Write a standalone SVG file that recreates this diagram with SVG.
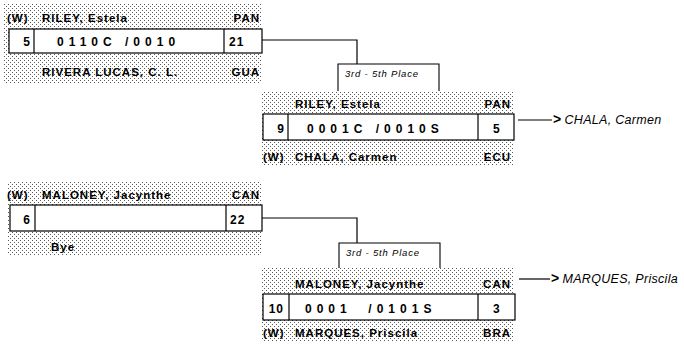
<svg xmlns="http://www.w3.org/2000/svg" width="684" height="344" viewBox="0 0 684 344">
<defs>
<pattern id="dots" width="4" height="4" patternUnits="userSpaceOnUse">
<rect width="1" height="1" fill="#5a5a5a"/>
<rect x="2" y="2" width="1" height="1" fill="#5a5a5a"/>
</pattern>
<style>
.shade{fill:url(#dots)}
.box{fill:#fff;stroke:#000;stroke-width:1.2}
.div{stroke:#000;stroke-width:1.2}
.t{font-family:"Liberation Sans",Arial,Helvetica,sans-serif;font-weight:bold;font-size:11.5px;letter-spacing:1px;fill:#000}
.n{font-family:"Liberation Sans",Arial,Helvetica,sans-serif;font-weight:bold;font-size:12px;letter-spacing:1px;fill:#000}
.sc{font-family:"Liberation Sans",Arial,Helvetica,sans-serif;font-weight:bold;font-size:12px;letter-spacing:5px;fill:#000}
.pl{font-family:"Liberation Sans",Arial,Helvetica,sans-serif;font-style:italic;font-size:9.5px;letter-spacing:0.8px;fill:#000}
.res{font-family:"Liberation Sans",Arial,Helvetica,sans-serif;font-size:12.5px;letter-spacing:0.3px;fill:#000}
.lab{fill:#fff;stroke:#000;stroke-width:1.1}
.c{fill:none;stroke:#000;stroke-width:1.2}
</style>
</defs>

<g id="connectors">
<polyline class="c" points="262,40 357,40 357,64"/>
<polyline class="c" points="262,218 357,218 357,243"/>
<line class="c" x1="518" y1="120" x2="552" y2="120"/>
<line class="c" x1="519" y1="279" x2="550" y2="279"/>
</g>

<g id="match5">
<rect class="shade" x="4" y="4" width="258" height="79"/>
<text class="t" x="7" y="22">(W)</text>
<text class="t" x="42" y="22">RILEY, Estela</text>
<text class="t" x="260" y="22" text-anchor="end">PAN</text>
<rect class="box" x="9" y="29" width="253" height="24"/>
<line class="div" x1="34" y1="29" x2="34" y2="53"/>
<line class="div" x1="224" y1="29" x2="224" y2="53"/>
<text class="n" x="31" y="46" text-anchor="end">5</text>
<text class="sc" x="57" y="46" xml:space="preserve">0110C /0010</text>
<text class="n" x="229" y="46">21</text>
<text class="t" x="42" y="76">RIVERA LUCAS, C. L.</text>
<text class="t" x="260" y="76" text-anchor="end">GUA</text>
</g>

<g id="place9">
<polyline class="lab" points="338,91 338,64 439,64 439,91"/>
<text class="pl" x="345" y="77">3rd - 5th Place</text>
</g>

<g id="match9">
<rect class="shade" x="262" y="91" width="252" height="74"/>
<text class="t" x="295" y="108">RILEY, Estela</text>
<text class="t" x="511" y="108" text-anchor="end">PAN</text>
<rect class="box" x="263" y="114" width="251" height="26"/>
<line class="div" x1="288" y1="114" x2="288" y2="140"/>
<line class="div" x1="478" y1="114" x2="478" y2="140"/>
<text class="n" x="285" y="133" text-anchor="end">9</text>
<text class="sc" x="307" y="133" xml:space="preserve">0001C /0010S</text>
<text class="n" x="493" y="133">5</text>
<text class="t" x="263" y="161">(W)</text>
<text class="t" x="295" y="161">CHALA, Carmen</text>
<text class="t" x="511" y="161" text-anchor="end">ECU</text>
</g>

<g id="result9">
<text class="res" x="553" y="124"><tspan font-weight="bold" font-size="14">&gt;</tspan><tspan dx="3" font-style="italic">CHALA, Carmen</tspan></text>
</g>

<g id="match6">
<rect class="shade" x="8" y="182" width="254" height="73"/>
<text class="t" x="7" y="199">(W)</text>
<text class="t" x="42" y="199">MALONEY, Jacynthe</text>
<text class="t" x="260" y="199" text-anchor="end">CAN</text>
<rect class="box" x="10" y="205" width="252" height="26"/>
<line class="div" x1="35" y1="205" x2="35" y2="231"/>
<line class="div" x1="226" y1="205" x2="226" y2="231"/>
<text class="n" x="31" y="224" text-anchor="end">6</text>
<text class="n" x="230" y="224">22</text>
<text class="t" x="51" y="251">Bye</text>
</g>

<g id="place10">
<polyline class="lab" points="339,268 339,243 440,243 440,268"/>
<text class="pl" x="346" y="256">3rd - 5th Place</text>
</g>

<g id="match10">
<rect class="shade" x="262" y="268" width="252" height="74"/>
<text class="t" x="295" y="288">MALONEY, Jacynthe</text>
<text class="t" x="511" y="288" text-anchor="end">CAN</text>
<rect class="box" x="263" y="294" width="252" height="26"/>
<line class="div" x1="289" y1="294" x2="289" y2="320"/>
<line class="div" x1="478" y1="294" x2="478" y2="320"/>
<text class="n" x="284" y="313" text-anchor="end">10</text>
<text class="sc" x="305" y="313" xml:space="preserve">0001  /0101S</text>
<text class="n" x="493" y="313">3</text>
<text class="t" x="263" y="337">(W)</text>
<text class="t" x="295" y="337">MARQUES, Priscila</text>
<text class="t" x="511" y="337" text-anchor="end">BRA</text>
</g>

<g id="result10">
<text class="res" x="551" y="283"><tspan font-weight="bold" font-size="14">&gt;</tspan><tspan dx="3" font-style="italic">MARQUES, Priscila</tspan></text>
</g>
</svg>
